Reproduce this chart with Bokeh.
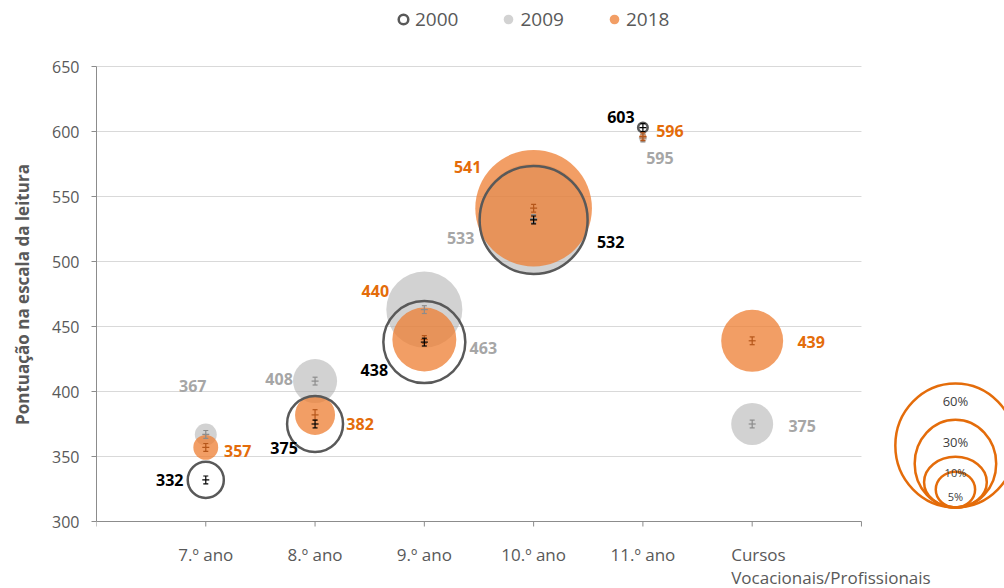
import math
from bokeh.plotting import figure
from bokeh.models import (Range1d, FixedTicker, Legend, LegendItem,
                          ColumnDataSource)
from bokeh.core.properties import value
from bokeh.embed import file_html
from bokeh.resources import INLINE

# ---------------- data ----------------
categories = ["7.º ano", "8.º ano", "9.º ano", "10.º ano", "11.º ano",
              "Cursos\nVocacionais/Profissionais"]
cat_pos = [1, 2, 3, 4, 5, 6]

score_2000 = [332, 375, 438, 532, 603]
score_2009 = [367, 408, 463, 533, 595, 375]
score_2018 = [357, 382, 440, 541, 596, 439]

# share of students (%) -> bubble area
pct_2000 = [5.7, 13.7, 29.4, 51.0, 0.4]
pct_2009 = [2.1, 8.5, 25.3, 52.9, 0.3, 7.7]
pct_2018 = [2.7, 7.0, 17.9, 59.5, 0.2, 16.8]

# standard errors (score points)
se_2000 = [3, 3, 3, 3, 3]
se_2009 = [3, 3, 3, 3, 3, 3]
se_2018 = [3, 4, 3, 3, 3, 3]

size_legend_pct = [60, 30, 10, 5]
size_legend_labels = ["60%", "30%", "10%", "5%"]

y_ticks = [300, 350, 400, 450, 500, 550, 600, 650]
x_ticks = [0, 1, 2, 3, 4, 5, 6, 7]

# ---------------- styles ----------------
FONT = "Open Sans"
C2000 = "#595959"
C2009 = "#A5A5A5"
C2018 = "#ED7D31"
TXT2000 = "#000000"
TXT2009 = "#A6A6A6"
TXT2018 = "#E46C0A"
ERR2000 = "#000000"
ERR2009 = "#8C8C8C"
ERR2018 = "#B5561A"
AXIS = "#8C8C8C"
GRID = "#D9D9D9"
TICKTXT = "#595959"

W, H = 1004, 588
K = 7.56           # px radius per sqrt(%)
K_LEG = 8.0        # size-legend scale
PX_PER_CAT = 109.28
BL = 96            # left panel (y axis)
TOP_PX, BOT_PX = 66, 521   # screen rows of 650 and 300
Y0, Y1 = 300, 650
PX_PER_PT = (BOT_PX - TOP_PX) / (Y1 - Y0)
FRAME_W = W - BL
YV0 = Y0 - (H - BOT_PX) / PX_PER_PT
YV1 = Y1 + TOP_PX / PX_PER_PT

# label offsets (px, screen; +y is down)
off_2000 = [(-36, 0), (-31, 24), (-50, 28), (77, 22), (-22, -11)]
off_2009 = [(-13, -48), (-36, -2), (59, 38), (-73, 19), (17, 20), (50, 2)]
off_2018 = [(32, 4), (45, 9), (-49, -49), (-66, -41), (27, -6), (59, 1)]

# size legend styling
leg_cx = 7.86
leg_bottom = 310.8
leg_aspect = [0.97, 0.93, 1.24, 1.1]
leg_text_up = [106, 65, 35, 11]
leg_text_size = ["13px", "13px", "11px", "11px"]

p = figure(frame_width=FRAME_W, frame_height=H,
           min_border_left=BL, min_border_right=0, min_border_top=0,
           min_border_bottom=0, x_axis_type=None,
           x_range=Range1d(0, FRAME_W / PX_PER_CAT), y_range=Range1d(YV0, YV1),
           output_backend="svg", toolbar_location=None,
           background_fill_color="white", border_fill_color="white")
p.outline_line_color = None
p.ygrid.grid_line_color = None

# gridlines limited to the category span
gy = [t for t in y_ticks if t > Y0]
p.segment(x0=[x_ticks[0]] * len(gy), x1=[x_ticks[-1]] * len(gy), y0=gy, y1=gy,
          line_color=GRID, line_width=1, level="underlay")

# y axis (real axis)
ya = p.yaxis[0]
ya.bounds = (Y0, Y1)
ya.ticker = FixedTicker(ticks=y_ticks)
ya.axis_line_color = AXIS
ya.major_tick_line_color = AXIS
ya.major_tick_in = 0
ya.major_tick_out = 5
ya.minor_tick_line_color = None
ya.major_label_text_font = FONT
ya.major_label_text_color = TICKTXT
ya.major_label_text_font_size = "16px"
ya.major_label_standoff = 12
ya.axis_label = "Pontuação na escala da leitura"
ya.axis_label_text_font = FONT
ya.axis_label_text_font_style = "bold"
ya.axis_label_text_font_size = "17px"
ya.axis_label_text_color = TICKTXT
ya.axis_label_standoff = 15

# x axis drawn on the value 300 baseline
p.segment(x0=[x_ticks[0]], x1=[x_ticks[-1]], y0=[Y0], y1=[Y0],
          line_color=AXIS, line_width=1)
p.segment(x0=x_ticks, x1=x_ticks, y0=[Y0] * len(x_ticks),
          y1=[Y0 - 5 / PX_PER_PT] * len(x_ticks), line_color=AXIS, line_width=1)
p.text(x=cat_pos[:5], y=[Y0] * 5, text=categories[:5], y_offset=21,
       text_align="center", text_baseline="top", text_font=value(FONT),
       text_font_size="17px", text_color=TICKTXT)
p.text(x=cat_pos[5:], y=[Y0], text=categories[5:], x_offset=-21, y_offset=21,
       text_align="left", text_baseline="top", text_font=value(FONT),
       text_font_size="17px", text_color=TICKTXT, text_line_height=1.0)


def src(xs, ys, pct, se, off):
    n = len(ys)
    return ColumnDataSource(dict(
        x=xs[:n], y=ys, size=[2 * K * math.sqrt(v) for v in pct],
        lo=[a - b for a, b in zip(ys, se)], hi=[a + b for a, b in zip(ys, se)],
        dx=[o[0] for o in off], dy=[o[1] for o in off],
        txt=[str(v) for v in ys]))


s2000 = src(cat_pos, score_2000, pct_2000, se_2000, off_2000)
s2009 = src(cat_pos, score_2009, pct_2009, se_2009, off_2009)
s2018 = src(cat_pos, score_2018, pct_2018, se_2018, off_2018)

r2009 = p.scatter("x", "y", size="size", source=s2009, fill_color=C2009,
                  fill_alpha=0.5, line_color=None)
r2018 = p.scatter("x", "y", size="size", source=s2018, fill_color=C2018,
                  fill_alpha=0.75, line_color=None)
r2000 = p.scatter("x", "y", size="size", source=s2000, fill_color=None,
                  line_color=C2000, line_width=2.5)

# error bars
for s, c in ((s2009, ERR2009), (s2018, ERR2018), (s2000, ERR2000)):
    p.segment(x0="x", y0="lo", x1="x", y1="hi", source=s, line_color=c,
              line_width=1.2)
    p.scatter("x", "lo", source=s, marker="dash", size=5, line_color=c,
              line_width=1.2)
    p.scatter("x", "hi", source=s, marker="dash", size=5, line_color=c,
              line_width=1.2)
    p.scatter("x", "y", source=s, marker="dash", size=7, line_color=c,
              line_width=1.2)

# value labels
for s, c in ((s2009, TXT2009), (s2018, TXT2018), (s2000, TXT2000)):
    p.text("x", "y", text="txt", source=s, x_offset="dx", y_offset="dy",
           text_align="center", text_baseline="middle",
           text_font=value(FONT), text_font_style="bold",
           text_font_size="16px", text_color=c)

# size legend (concentric, bottom-tangent)
lh = [2 * K_LEG * math.sqrt(v) for v in size_legend_pct]
lw = [h * a for h, a in zip(lh, leg_aspect)]
lcy = [leg_bottom + h / 2 / PX_PER_PT for h in lh]
p.ellipse(x=[leg_cx] * 4, y=lcy, width=lw, height=lh,
          width_units="screen", height_units="screen",
          fill_color=None, line_color="#E46C0A", line_width=2.5)
p.text(x=[leg_cx] * 4, y=[leg_bottom + u / PX_PER_PT for u in leg_text_up],
       text=size_legend_labels, text_align="center", text_baseline="middle",
       text_font=value(FONT), text_font_size=leg_text_size,
       text_color="#404040")

legend = Legend(items=[LegendItem(label="2000", renderers=[r2000]),
                       LegendItem(label="2009", renderers=[r2009]),
                       LegendItem(label="2018", renderers=[r2018])],
                orientation="horizontal", location=(295, H - 32),
                glyph_width=24, glyph_height=24, label_standoff=0,
                spacing=38, padding=0, margin=0,
                label_text_font=FONT, label_text_font_size="19px",
                label_text_color="#595959", border_line_color=None,
                background_fill_alpha=0)
p.add_layout(legend, "center")

open("out.html", "w").write(file_html(p, INLINE))
